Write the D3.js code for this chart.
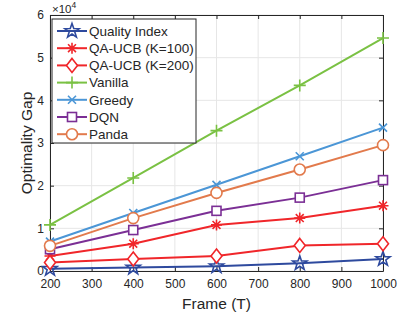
<!DOCTYPE html>
<html><head><meta charset="utf-8">
<script src="https://cdn.jsdelivr.net/npm/d3@7"></script>
<style>body{margin:0;background:#fff;}svg{display:block;font-family:Helvetica,Arial,"Liberation Sans",sans-serif;}</style>
</head><body><div id="chart"></div>
<script>
const frames = [200, 400, 600, 800, 1000];
const xTicks = [200, 300, 400, 500, 600, 700, 800, 900, 1000];
const yTicks = [0, 10000, 20000, 30000, 40000, 50000, 60000];
const yTickLabels = ["0", "1", "2", "3", "4", "5", "6"];
const seriesNames = ["Quality Index", "QA-UCB (K=100)", "QA-UCB (K=200)", "Vanilla", "Greedy", "DQN", "Panda"];
const qualityIndex = [500, 800, 1100, 1800, 2800];
const qaUcb100 = [3500, 6400, 10800, 12400, 15300];
const qaUcb200 = [2000, 2800, 3500, 6000, 6400];
const vanilla = [10800, 21800, 32900, 43500, 54600];
const greedy = [6900, 13600, 20200, 26900, 33600];
const dqn = [5100, 9600, 14100, 17200, 21300];
const panda = [5900, 12400, 18300, 23800, 29500];
const seriesValues = [qualityIndex, qaUcb100, qaUcb200, vanilla, greedy, dqn, panda];
const seriesColors = ["#2e4a9e", "#f0262a", "#f0262a", "#7ac143", "#4b96d6", "#7b2f95", "#e27a4c"];
const seriesMarkers = ["star", "asterisk", "diamond", "plus", "x", "square", "circle"];

const W = 414, H = 322;
const m = {l: 50, r: 31, t: 15, b: 51};
const svg = d3.select("#chart").append("svg").attr("width", W).attr("height", H);
const x = d3.scaleLinear().domain([200, 1000]).range([m.l, W - m.r]);
const y = d3.scaleLinear().domain([0, 60000]).range([H - m.b, m.t]);
const axisColor = "#262626";

// grid
const g = svg.append("g");
g.selectAll(".gx").data(xTicks).enter().append("line")
  .attr("x1", d => x(d)).attr("x2", d => x(d)).attr("y1", y(0)).attr("y2", y(60000))
  .attr("stroke", "#e6e6e6").attr("stroke-width", 1);
g.selectAll(".gy").data(yTicks).enter().append("line")
  .attr("y1", d => y(d)).attr("y2", d => y(d)).attr("x1", x(200)).attr("x2", x(1000))
  .attr("stroke", "#e6e6e6").attr("stroke-width", 1);

// axes
const xAxis = d3.axisBottom(x).tickValues(xTicks).tickSizeInner(-4).tickSizeOuter(0).tickPadding(8).tickFormat(d3.format("d"));
const xAxisTop = d3.axisTop(x).tickValues(xTicks).tickSizeInner(-4).tickSizeOuter(0).tickFormat("");
const yAxis = d3.axisLeft(y).tickValues(yTicks).tickSizeInner(-4).tickSizeOuter(0).tickPadding(6).tickFormat((d, i) => yTickLabels[i]);
const yAxisRight = d3.axisRight(y).tickValues(yTicks).tickSizeInner(-4).tickSizeOuter(0).tickFormat("");
function styleAxis(sel) {
  sel.select(".domain").attr("stroke", axisColor).attr("stroke-width", 1);
  sel.selectAll(".tick line").attr("stroke", axisColor);
  sel.selectAll("text").attr("fill", axisColor).style("font-size", "12px").style("font-family", "Helvetica,Arial,'Liberation Sans',sans-serif");
}
svg.append("g").attr("transform", `translate(0,${y(0)})`).call(xAxis).call(styleAxis);
svg.append("g").attr("transform", `translate(0,${y(60000)})`).call(xAxisTop).call(styleAxis);
svg.append("g").attr("transform", `translate(${x(200)},0)`).call(yAxis).call(styleAxis);
svg.append("g").attr("transform", `translate(${x(1000)},0)`).call(yAxisRight).call(styleAxis);

// exponent label
const ex = svg.append("text").attr("x", 52).attr("y", 12.5).attr("fill", axisColor).style("font-size", "11.5px");
ex.append("tspan").text("×10");
ex.append("tspan").attr("dy", -5).style("font-size", "8.5px").text("4");

// axis labels
svg.append("text").attr("x", (x(200) + x(1000)) / 2).attr("y", 309).attr("text-anchor", "middle")
  .attr("fill", axisColor).style("font-size", "15.5px").text("Frame (T)");
svg.append("text").attr("transform", `translate(32,${(y(0) + y(60000)) / 2}) rotate(-90)`).attr("text-anchor", "middle")
  .attr("fill", axisColor).style("font-size", "15.5px").text("Optimality Gap");

// markers
function starPath(ro, ri) {
  let p = "";
  for (let i = 0; i < 10; i++) {
    const r = i % 2 === 0 ? ro : ri;
    const a = -Math.PI / 2 + i * Math.PI / 5;
    p += (i ? "L" : "M") + (r * Math.cos(a)).toFixed(2) + "," + (r * Math.sin(a)).toFixed(2);
  }
  return p + "Z";
}
function drawMarker(sel, type, color) {
  const sw = 1.6;
  if (type === "star") {
    sel.append("path").attr("d", starPath(7.5, 3)).attr("fill", "none").attr("stroke", color).attr("stroke-width", sw);
  } else if (type === "asterisk") {
    const r = 5.5, d = r * 0.72;
    sel.append("path").attr("d", `M0,${-r}V${r}M${-r},0H${r}M${-d},${-d}L${d},${d}M${-d},${d}L${d},${-d}`)
      .attr("stroke", color).attr("stroke-width", sw).attr("fill", "none");
  } else if (type === "diamond") {
    sel.append("path").attr("d", "M0,-7L5.5,0L0,7L-5.5,0Z").attr("fill", "#fff").attr("stroke", color).attr("stroke-width", sw);
  } else if (type === "plus") {
    sel.append("path").attr("d", "M0,-6V6M-6,0H6").attr("stroke", color).attr("stroke-width", sw);
  } else if (type === "x") {
    sel.append("path").attr("d", "M-4,-4L4,4M-4,4L4,-4").attr("stroke", color).attr("stroke-width", sw);
  } else if (type === "square") {
    sel.append("rect").attr("x", -4.5).attr("y", -4.5).attr("width", 9).attr("height", 9).attr("fill", "#fff").attr("stroke", color).attr("stroke-width", sw);
  } else if (type === "circle") {
    sel.append("circle").attr("r", 5.5).attr("fill", "#fff").attr("stroke", color).attr("stroke-width", sw);
  }
}

const line = d3.line().x((d, i) => x(frames[i])).y(d => y(d));
seriesValues.forEach((vals, si) => {
  const sg = svg.append("g");
  sg.append("path").datum(vals).attr("d", line).attr("fill", "none").attr("stroke", seriesColors[si]).attr("stroke-width", 2);
  sg.selectAll(".mk").data(vals).enter().append("g")
    .attr("transform", (d, i) => `translate(${x(frames[i])},${y(d)})`)
    .each(function() { drawMarker(d3.select(this), seriesMarkers[si], seriesColors[si]); });
});

// legend
const lg = svg.append("g");
lg.append("rect").attr("x", 52).attr("y", 19).attr("width", 144).attr("height", 124)
  .attr("fill", "#fff").attr("stroke", axisColor).attr("stroke-width", 1);
seriesNames.forEach((name, i) => {
  const cy = 31 + i * 17.2;
  const eg = lg.append("g");
  eg.append("line").attr("x1", 57).attr("x2", 87).attr("y1", cy).attr("y2", cy).attr("stroke", seriesColors[i]).attr("stroke-width", 2);
  drawMarker(eg.append("g").attr("transform", `translate(72,${cy})`), seriesMarkers[i], seriesColors[i]);
  eg.append("text").attr("x", 89).attr("y", cy).attr("dy", "0.35em").attr("fill", axisColor).style("font-size", "13.5px").text(name);
});
</script></body></html>
